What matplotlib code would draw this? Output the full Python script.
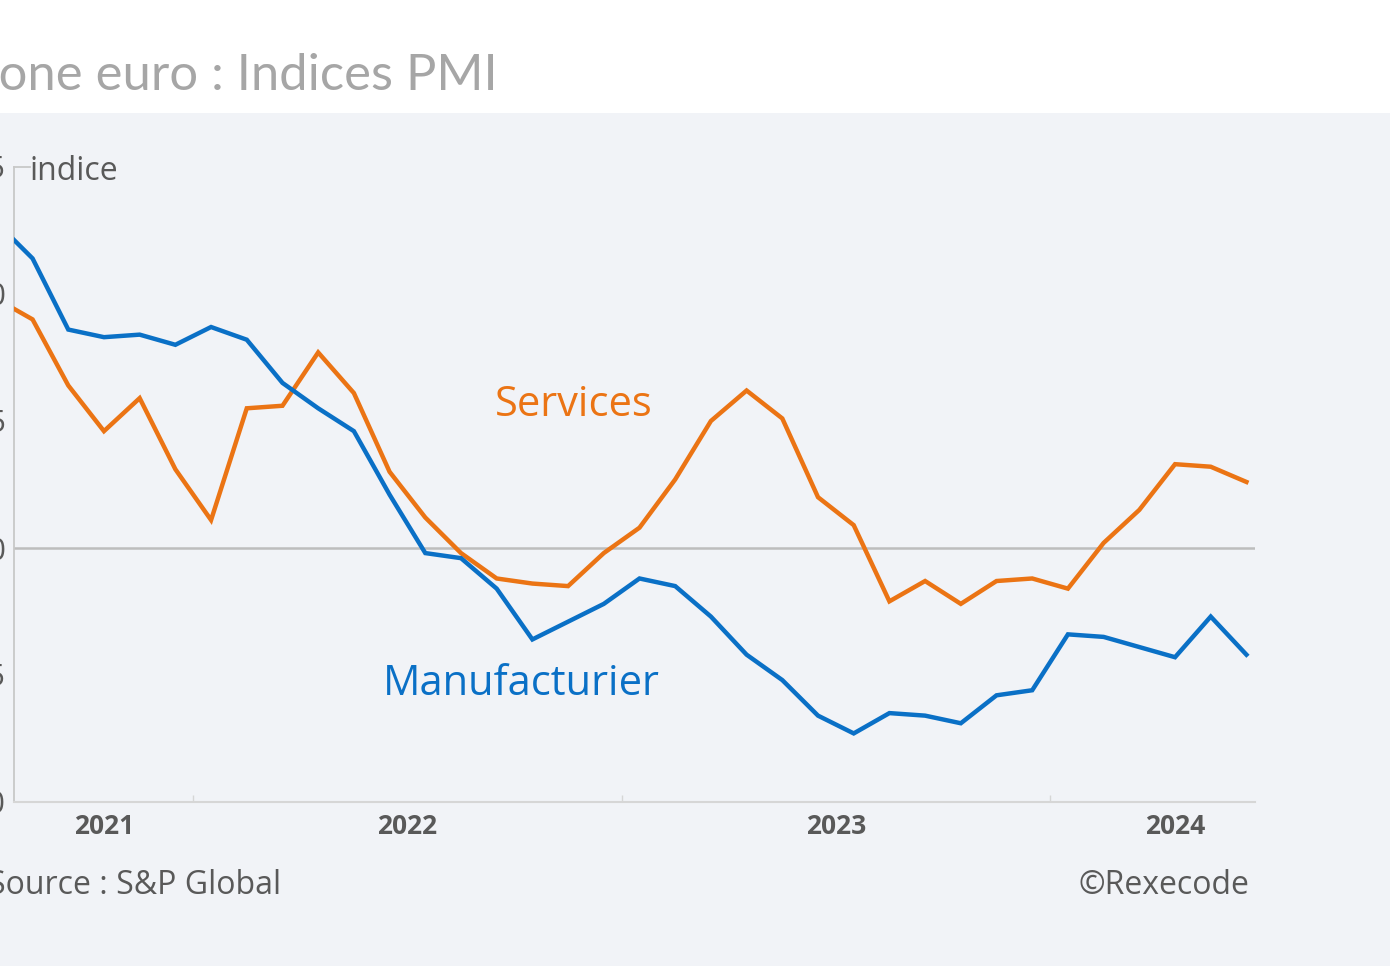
import numpy as np
import matplotlib
matplotlib.use("Agg")
import matplotlib.pyplot as plt

plt.rcParams['font.family'] = ['Open Sans', 'DejaVu Sans']

# PMI zone euro, mensuel, juillet 2021 -> juin 2024
mois = np.arange(36)  # 0 = juillet 2021
manufacturier = [62.8, 61.4, 58.6, 58.3, 58.4, 58.0,
                 58.7, 58.2, 56.5, 55.5, 54.6, 52.1, 49.8, 49.6, 48.4, 46.4, 47.1, 47.8,
                 48.8, 48.5, 47.3, 45.8, 44.8, 43.4, 42.7, 43.5, 43.4, 43.1, 44.2, 44.4,
                 46.6, 46.5, 46.1, 45.7, 47.3, 45.8]
services = [59.8, 59.0, 56.4, 54.6, 55.9, 53.1,
            51.1, 55.5, 55.6, 57.7, 56.1, 53.0, 51.2, 49.8, 48.8, 48.6, 48.5, 49.8,
            50.8, 52.7, 55.0, 56.2, 55.1, 52.0, 50.9, 47.9, 48.7, 47.8, 48.7, 48.8,
            48.4, 50.2, 51.5, 53.3, 53.2, 52.6]
annees = ['2021', '2022', '2023', '2024']
pos_annees = [3.0, 11.5, 23.5, 33.0]
limites_annees = [5.5, 17.5, 29.5]
yticks = [40, 45, 50, 55, 60, 65]

bleu = '#0A70C6'
orange = '#EB7414'
fond = '#F1F3F7'
gris_txt = '#595959'

W, H = 1390, 966
fig = plt.figure(figsize=(W / 100, H / 100), dpi=100, facecolor='white')

# bandeau gris clair sous le titre
fig.patches.append(plt.Rectangle((0, 0), 1, 1 - 113 / H, transform=fig.transFigure,
                                 facecolor=fond, edgecolor='none', zorder=-5))

ax = fig.add_axes([14 / W, 1 - 802 / H, (1255 - 14) / W, (802 - 167) / H])
ax.patch.set_visible(False)

ax.plot(mois, services, color=orange, lw=3.2, solid_joinstyle='miter', zorder=3)
ax.plot(mois, manufacturier, color=bleu, lw=3.2, solid_joinstyle='miter', zorder=3)
ax.axhline(50, color='#BDBDBD', lw=1.8, zorder=2)

ax.set_xlim(0.48, 35.24)
ax.set_ylim(40, 65)

for s in ['top', 'right']:
    ax.spines[s].set_visible(False)
ax.spines['left'].set_color('#C8C8C8')
ax.spines['left'].set_linewidth(1.3)
ax.spines['bottom'].set_color('#D6D6D6')
ax.spines['bottom'].set_linewidth(1.5)
ax.plot([0, 0.013], [1, 1], transform=ax.transAxes, color='#C8C8C8', lw=1.3, clip_on=False)

ax.set_yticks(yticks)
ax.set_yticklabels([str(v) for v in yticks])
ax.tick_params(axis='y', length=0, pad=6, labelsize=22, labelcolor=gris_txt)

ax.set_xticks(limites_annees)
ax.set_xticklabels([])
ax.tick_params(axis='x', which='major', length=5, width=1, color='#D6D6D6', direction='in')
ax.set_xticks(pos_annees, minor=True)
ax.set_xticklabels(annees, minor=True, fontsize=19, fontweight='bold', color=gris_txt)
ax.tick_params(axis='x', which='minor', length=0, pad=8)

fig.text(30 / W, 1 - 180 / H, 'indice', fontsize=23, color=gris_txt, va='baseline')
fig.text(495 / W, 1 - 416 / H, 'Services', fontsize=30, color=orange, va='baseline')
fig.text(383 / W, 1 - 695 / H, 'Manufacturier', fontsize=30, color=bleu, va='baseline')

# titre coupé à gauche : seul "one euro : Indices PMI" est visible (0 -> 500 px)
renderer = fig.canvas.get_renderer()
police_titre = ['Lato', 'DejaVu Sans']
tv = fig.text(0, 0, 'one euro : Indices PMI', fontsize=42, family=police_titre)
taille = 42 * 500 / tv.get_window_extent(renderer).width
tv.remove()
tz = fig.text(0, 0, 'Z', fontsize=taille, family=police_titre)
wz = tz.get_window_extent(renderer).width
tz.remove()
fig.text(-(wz + 1) / W, 1 - 90 / H, 'Zone euro : Indices PMI', fontsize=taille,
         family=police_titre, color='#A6A6A6', ha='left', va='baseline')

fig.text(281 / W, 1 - 894 / H, 'Source : S&P Global', fontsize=23, color=gris_txt,
         ha='right', va='baseline')
fig.text(1249 / W, 1 - 894 / H, '©Rexecode', fontsize=23, color=gris_txt,
         ha='right', va='baseline')

fig.savefig('out.png', dpi=100, facecolor='white')
